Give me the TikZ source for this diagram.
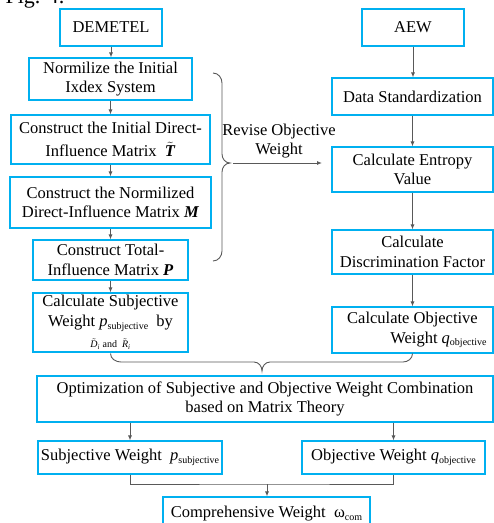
\documentclass[tikz,border=0pt]{standalone}
\usepackage{fontspec}
\setmainfont{Liberation Serif}
\usepackage{amsmath}
\usetikzlibrary{arrows.meta}
\definecolor{cy}{HTML}{00B0F0}
\definecolor{gl}{HTML}{595959}
\newcommand{\sbs}[1]{\raisebox{-0.35ex}{\fontsize{10}{10}\selectfont #1}}
\newcommand{\pS}{{\itshape p}\sbs{subjective}}
\newcommand{\qO}{{\itshape q}\sbs{objective}}
\tikzset{
  box/.style={draw=cy, line width=1.1pt, inner sep=1pt, align=center, text=black},
  arr/.style={draw=gl, line width=0.9pt, -{Latex[length=5pt,width=4pt]}},
  ln/.style={draw=gl, line width=0.9pt},
}
\begin{document}
\begin{tikzpicture}[x=1pt,y=-1pt,font=\fontsize{16.5}{19.5}\selectfont]
\useasboundingbox (0,0) rectangle (494,523);
\node[anchor=base west,font=\fontsize{22}{22}\selectfont] (fig) at (2,3) {Fig. 4:};
% left column
\node[box,minimum width=102,minimum height=37] (dem) at (111,27.5) {DEMETEL};
\node[box,minimum width=163,minimum height=42] (norm) at (110.5,79) {Normilize the Initial\\Ixdex System};
\node[box,minimum width=199,minimum height=49] (init) at (110.5,139.5) {Construct the Initial Direct-\\[3pt]Influence Matrix\ \ \ensuremath{\tilde{\textbf{\textit{T}}}}};
\node[box,minimum width=201,minimum height=51] (nmat) at (110.5,202.5) {Construct the Normilized\\Direct-Influence Matrix \textbf{\textit{M}}};
\node[box,minimum width=155,minimum height=40] (tot) at (110.5,260) {Construct Total-\\Influence Matrix \textbf{\textit{P}}};
\node[box,minimum width=155,minimum height=59] (subj) at (110.5,322.5) {Calculate Subjective\\Weight \pS\ \ by\\[2pt]{\fontsize{10}{10}\selectfont \ensuremath{\tilde{\textit{D}}_{\textit{i}}}\ and \ \ensuremath{\tilde{\textit{R}}_{\textit{i}}}}};
% right column
\node[box,minimum width=102,minimum height=37] (aew) at (413,27.5) {AEW};
\node[box,minimum width=161,minimum height=37] (ds) at (412.5,96.5) {Data Standardization};
\node[box,minimum width=161,minimum height=45] (ent) at (412.5,169.5) {Calculate Entropy\\Value};
\node[box,minimum width=161,minimum height=44] (disc) at (412.5,252) {Calculate\\Discrimination Factor};
\node[box,minimum width=161,minimum height=46] (obj) at (412.5,330) {Calculate Objective\\\hspace*{52pt}Weight \qO};
% bottom
\node[box,minimum width=456,minimum height=46] (opt) at (265,399) {Optimization of Subjective and Objective Weight Combination\\based on Matrix Theory};
\node[box,minimum width=184,minimum height=33] (sw) at (130,457.5) {Subjective Weight\ \ \pS};
\node[box,minimum width=183,minimum height=33] (ow) at (393.5,457.5) {Objective Weight \qO};
\node[box,minimum width=207,minimum height=34] (comp) at (266.5,514) {Comprehensive Weight\ \ ω\sbs{com}};
% left arrows
\draw[arr] (dem.south) -- (dem.south |- norm.north);
\draw[arr] (norm.south) -- (norm.south |- init.north);
\draw[arr] (init.south) -- (init.south |- nmat.north);
\draw[arr] (nmat.south) -- (nmat.south |- tot.north);
\draw[arr] (tot.south) -- (tot.south |- subj.north);
% right arrows
\draw[arr] (aew.south) -- (aew.south |- ds.north);
\draw[arr] (ds.south) -- (ds.south |- ent.north);
\draw[arr] (ent.south) -- (ent.south |- disc.north);
\draw[arr] (disc.south) -- (disc.south |- obj.north);
% left brace
\coordinate (bt) at (230,163);
\coordinate (bs) at (233,163);
\coordinate (be) at (322,163);
\draw[ln] (213,73) to[out=0,in=90] (222,83) -- (222,154) to[out=-90,in=180] (bt) to[out=180,in=90] (222,172) -- (222,251) to[out=-90,in=0] (213,261);
\draw[arr] (bs) -- (be);
\node[align=center] (rev) at (279,141) {Revise Objective\\Weight};
% bottom brace
\draw[ln] (subj.south) ++(0,1) to[out=-90,in=180] (121,362) -- (254,362) to[out=0,in=90] (262,371) to[out=90,in=180] (270,362) -- (403,362) to[out=0,in=-90] (obj.south);
% bottom arrows
\draw[arr] (opt.south -| sw.north) -- (sw.north);
\draw[arr] (opt.south -| ow.north) -- (ow.north);
\coordinate (mj) at (267,484);
\draw[ln] (sw.south) |- (mj) -| (ow.south);
\draw[arr] (mj) -- (mj |- comp.north);
\end{tikzpicture}
\end{document}
